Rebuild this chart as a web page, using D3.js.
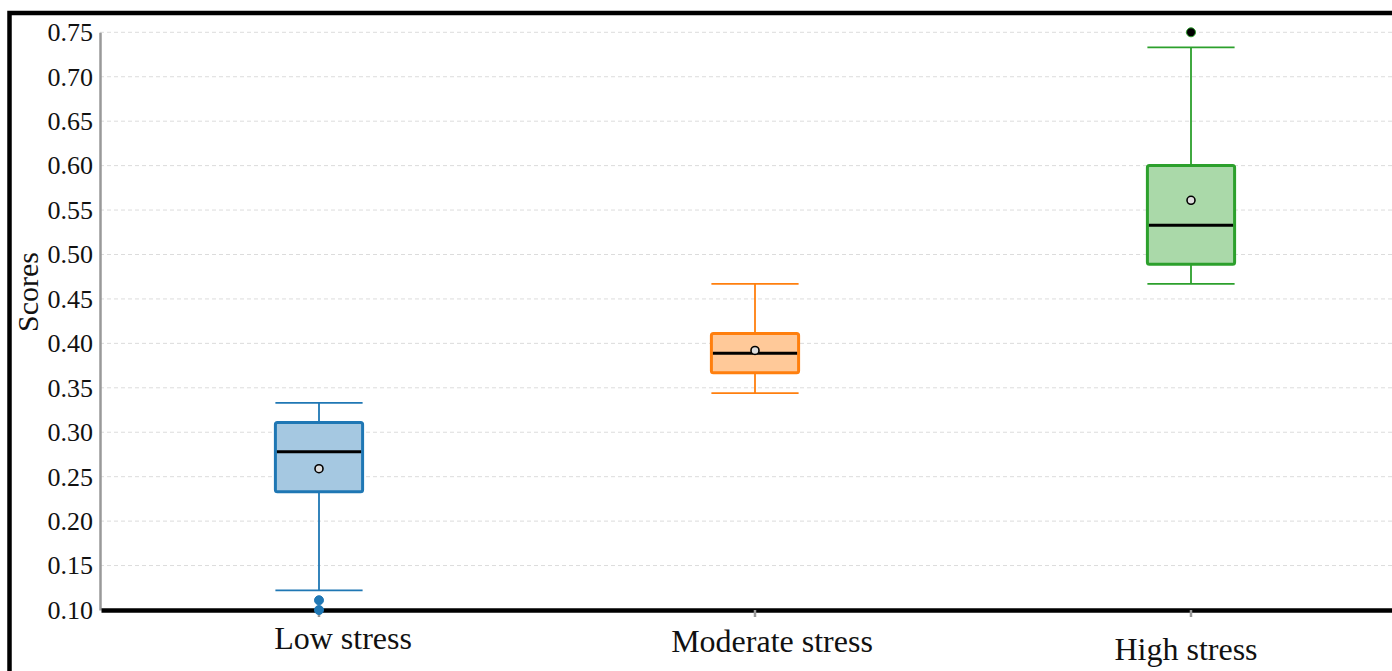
<!DOCTYPE html>
<html>
<head>
<meta charset="utf-8">
<script src="https://cdn.jsdelivr.net/npm/d3@7"></script>
<style>
  html, body { margin: 0; padding: 0; background: #fff; overflow: hidden; }
  svg { display: block; }
  text { font-family: "Liberation Serif", "Times New Roman", serif; }
</style>
</head>
<body>
<svg id="chart" width="1392" height="671"></svg>
<script>
// Score distributions per stress group
const categories   = ["Low stress", "Moderate stress", "High stress"];
const whiskerLow   = [0.122, 0.344, 0.467];
const q1           = [0.233, 0.367, 0.489];
const median       = [0.278, 0.389, 0.533];
const q3           = [0.311, 0.411, 0.600];
const whiskerHigh  = [0.333, 0.467, 0.733];
const means        = [0.259, 0.392, 0.561];
const outliers     = [[0.111, 0.100], [], [0.750]];
const yTickValues  = [0.10, 0.15, 0.20, 0.25, 0.30, 0.35, 0.40, 0.45, 0.50, 0.55, 0.60, 0.65, 0.70, 0.75];

// Group colours
const strokeColors  = ["#1f77b4", "#ff7f0e", "#2ca02c"];
const fillColors    = ["#a5c8e1", "#ffc999", "#aad9a9"];
const outlierFills  = ["#1f77b4", "#ff7f0e", "#000000"];

const svg = d3.select("#chart");

// Outer frame
svg.append("rect")
  .attr("x", 9.5).attr("y", 13)
  .attr("width", 1600).attr("height", 900)
  .attr("fill", "none").attr("stroke", "#000").attr("stroke-width", 4.5);

const y = d3.scaleLinear().domain([0.10, 0.75]).range([610, 32.3]);
const x = d3.scaleBand().domain(categories).range([101, 1409]).padding(0);
const cx = c => x(c) + x.bandwidth() / 2;
const boxW = x.bandwidth() * 0.2;

// Dashed horizontal grid
svg.append("g")
  .selectAll("line")
  .data(yTickValues.slice(1))
  .join("line")
  .attr("x1", 100).attr("x2", 1400)
  .attr("y1", d => y(d)).attr("y2", d => y(d))
  .attr("stroke", "#dcdcdc").attr("stroke-width", 1)
  .attr("stroke-dasharray", "4,3");

// Y axis
const yAxis = svg.append("g")
  .attr("transform", "translate(100,0)")
  .call(d3.axisLeft(y).tickValues(yTickValues).tickFormat(d3.format(".2f")).tickSize(0).tickPadding(7));
yAxis.select(".domain").attr("stroke", "#999").attr("stroke-width", 2.5);
yAxis.selectAll("text")
  .attr("font-size", 26).attr("fill", "#111")
  .style("font-family", "'Liberation Serif', serif");

// X axis (category labels sit a little off their ticks)
const labelShiftX = [24, 17, -5];
const labelDrop = [39, 42, 50];
const xAxis = svg.append("g")
  .attr("transform", "translate(0,610)")
  .call(d3.axisBottom(x).tickSizeInner(7).tickSizeOuter(0).tickPadding(0));
xAxis.select(".domain").attr("stroke", "#000").attr("stroke-width", 4.5);
xAxis.selectAll(".tick line").attr("stroke", "#999").attr("stroke-width", 2.5);
xAxis.selectAll("text")
  .attr("font-size", 32).attr("fill", "#111")
  .attr("dy", 0)
  .attr("x", (d, i) => labelShiftX[i])
  .attr("y", (d, i) => labelDrop[i])
  .style("font-family", "'Liberation Serif', serif");

// Y axis title
svg.append("text")
  .attr("transform", "translate(38,292) rotate(-90)")
  .attr("text-anchor", "middle")
  .attr("font-size", 30)
  .attr("fill", "#111")
  .text("Scores");

// Box plots
const groups = svg.append("g")
  .selectAll("g")
  .data(categories)
  .join("g");

// whisker stems
groups.append("line")
  .attr("x1", cx).attr("x2", cx)
  .attr("y1", (d, i) => y(whiskerLow[i])).attr("y2", (d, i) => y(whiskerHigh[i]))
  .attr("stroke", (d, i) => strokeColors[i]).attr("stroke-width", 1.8);

// whisker caps
[whiskerLow, whiskerHigh].forEach(arr => {
  groups.append("line")
    .attr("x1", d => cx(d) - boxW / 2).attr("x2", d => cx(d) + boxW / 2)
    .attr("y1", (d, i) => y(arr[i])).attr("y2", (d, i) => y(arr[i]))
    .attr("stroke", (d, i) => strokeColors[i]).attr("stroke-width", 1.8);
});

// boxes
groups.append("rect")
  .attr("x", d => cx(d) - boxW / 2)
  .attr("width", boxW)
  .attr("y", (d, i) => y(q3[i]))
  .attr("height", (d, i) => y(q1[i]) - y(q3[i]))
  .attr("rx", 2)
  .attr("fill", (d, i) => fillColors[i])
  .attr("stroke", (d, i) => strokeColors[i]).attr("stroke-width", 3);

// medians
groups.append("line")
  .attr("x1", d => cx(d) - boxW / 2 + 1.5).attr("x2", d => cx(d) + boxW / 2 - 1.5)
  .attr("y1", (d, i) => y(median[i])).attr("y2", (d, i) => y(median[i]))
  .attr("stroke", "#000").attr("stroke-width", 3);

// means
groups.append("circle")
  .attr("cx", cx)
  .attr("cy", (d, i) => y(means[i]))
  .attr("r", 4)
  .attr("fill", "#ddd").attr("stroke", "#000").attr("stroke-width", 1.6);

// outliers
groups.each(function(d, i) {
  d3.select(this).selectAll("circle.outlier")
    .data(outliers[i])
    .join("circle")
    .attr("class", "outlier")
    .attr("cx", cx(d))
    .attr("cy", v => y(v))
    .attr("r", 4.5)
    .attr("fill", outlierFills[i])
    .attr("stroke", strokeColors[i]).attr("stroke-width", 1);
});
</script>
</body>
</html>
